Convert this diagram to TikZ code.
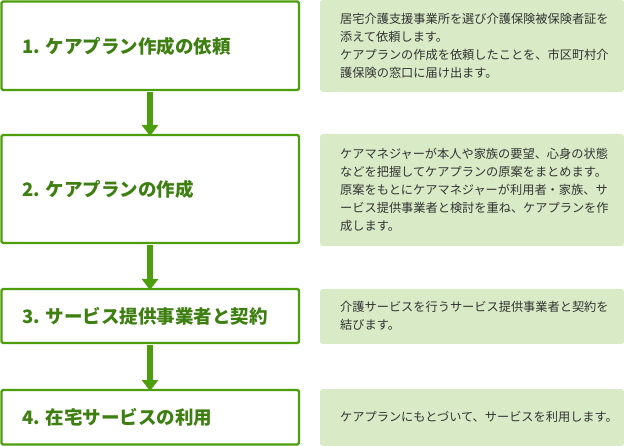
\documentclass[tikz,border=0pt]{standalone}
\usepackage{fontspec}
\setmainfont{Noto Sans CJK JP}
\usetikzlibrary{arrows.meta}
\definecolor{gr}{HTML}{4C9E0C}
\definecolor{tgr}{HTML}{3E7F12}
\definecolor{lg}{HTML}{D9EBC6}
\definecolor{tx}{HTML}{333333}
\tikzset{
 stepbox/.style={draw=gr,line width=2.4pt,rounded corners=1.5pt,fill=white},
 ttl/.style={anchor=west,inner sep=0pt,text=tgr,font=\fontsize{18.5}{20}\selectfont\bfseries},
 note/.style={fill=lg,rounded corners=3pt},
 notetxt/.style={anchor=west,inner sep=0pt,text=tx,align=left,font=\fontsize{12.2}{18}\selectfont},
 flow/.style={draw=gr,line width=6pt,-{Triangle[width=16pt,length=11pt]}, shorten >=-1pt}
}
\begin{document}
\begin{tikzpicture}[x=1pt,y=-1pt]
\useasboundingbox (0,0) rectangle (624,446);
\draw[stepbox] (1.5,1.5) rectangle (299,90); \coordinate (b1) at (150,90);
\draw[stepbox] (1.5,135) rectangle (299,243); \coordinate (t2) at (150,135); \coordinate (b2) at (150,243);
\draw[stepbox] (1.5,289) rectangle (299,343); \coordinate (t3) at (150,289); \coordinate (b3) at (150,343);
\draw[stepbox] (1.5,390) rectangle (299,444.5); \coordinate (t4) at (150,390);
\node[ttl] (n1) at (22,46) {1. ケアプラン作成の依頼};
\node[ttl] (n2) at (22,189) {2. ケアプランの作成};
\node[ttl] (n3) at (22,316) {3. サービス提供事業者と契約};
\node[ttl] (n4) at (22,417) {4. 在宅サービスの利用};
\draw[flow] (150,92) -- (t2);
\draw[flow] (150,245) -- (t3);
\draw[flow] (150,345) -- (t4);
\fill[note] (320,0) rectangle (624,92);
\fill[note] (320,134) rectangle (624,246);
\fill[note] (320,289) rectangle (624,344);
\fill[note] (320,389) rectangle (624,446);
\node[notetxt] (m1) at (340,46) {居宅介護支援事業所を選び介護保険被保険者証を\\添えて依頼します。\\ケアプランの作成を依頼したことを、市区町村介\\護保険の窓口に届け出ます。};
\node[notetxt] (m2) at (340,190) {ケアマネジャーが本人や家族の要望、心身の状態\\などを把握してケアプランの原案をまとめます。\\原案をもとにケアマネジャーが利用者・家族、サ\\ービス提供事業者と検討を重ね、ケアプランを作\\成します。};
\node[notetxt] (m3) at (340,316) {介護サービスを行うサービス提供事業者と契約を\\結びます。};
\node[notetxt] (m4) at (340,417) {ケアプランにもとづいて、サービスを利用します。};
\end{tikzpicture}
\end{document}
